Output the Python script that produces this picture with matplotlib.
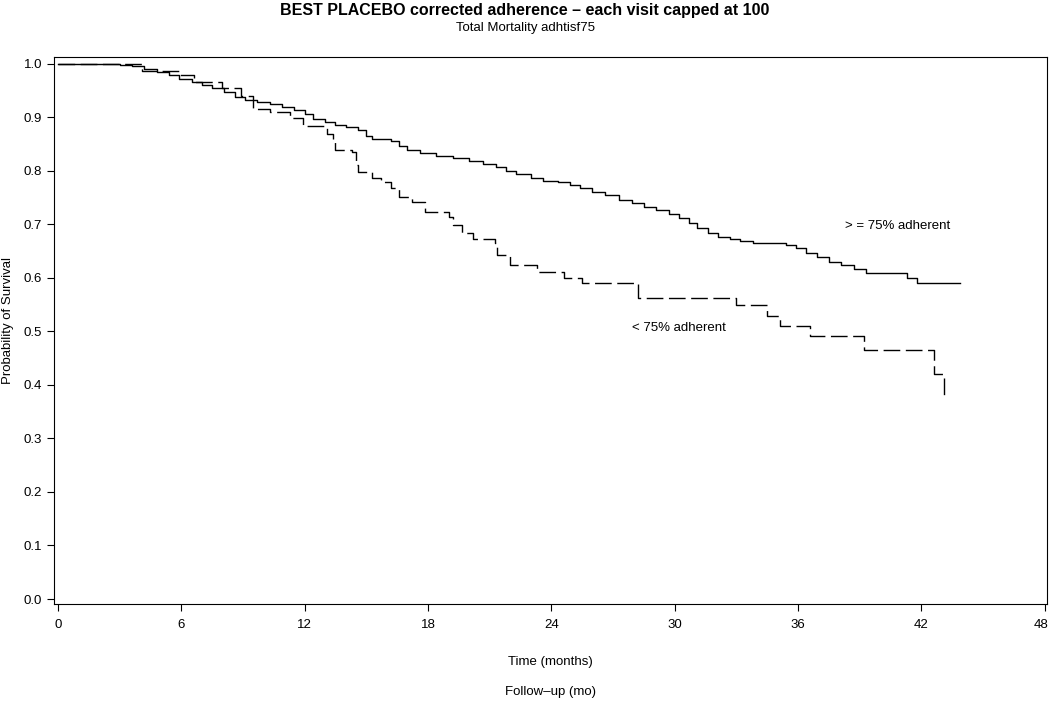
import matplotlib
matplotlib.use("Agg")
from matplotlib import pyplot as plt
from matplotlib import transforms

plt.rcParams['font.family'] = ['Liberation Sans', 'DejaVu Sans']

# >= 75% adherent (Kaplan-Meier)
t_hi = [0, 3.0, 3.6, 4.2, 4.8, 5.4, 5.9, 6.5, 7.0, 7.5, 8.1, 8.6, 9.1, 9.7,
        10.3, 10.9, 11.5, 12.0, 12.4, 13.0, 13.5, 14.0, 14.6, 15.0, 15.3,
        16.2, 16.6, 17.0, 17.6, 18.4, 19.2, 20.0, 20.7, 21.3, 21.8, 22.3,
        23.0, 23.6, 24.3, 24.9, 25.4, 26.0, 26.6, 27.3, 27.9, 28.5, 29.1,
        29.7, 30.2, 30.7, 31.1, 31.6, 32.1, 32.7, 33.2, 33.8, 35.4, 35.9,
        36.4, 36.9, 37.5, 38.1, 38.7, 39.3, 41.3, 41.8, 43.9]
s_hi = [1.0, 0.998, 0.995, 0.990, 0.984, 0.978, 0.972, 0.966, 0.960, 0.954,
        0.946, 0.938, 0.932, 0.928, 0.924, 0.918, 0.913, 0.905, 0.897, 0.891,
        0.886, 0.882, 0.876, 0.864, 0.860, 0.856, 0.846, 0.838, 0.833, 0.828,
        0.823, 0.818, 0.812, 0.806, 0.800, 0.793, 0.786, 0.781, 0.778, 0.774,
        0.767, 0.761, 0.754, 0.746, 0.739, 0.732, 0.726, 0.719, 0.712, 0.702,
        0.693, 0.684, 0.677, 0.672, 0.668, 0.664, 0.661, 0.655, 0.646, 0.638,
        0.630, 0.624, 0.617, 0.608, 0.600, 0.590, 0.590]

# < 75% adherent
t_lo = [0, 4.1, 5.9, 6.6, 8.0, 8.9, 9.5, 10.3, 11.3, 11.9, 13.1, 13.4, 13.5,
        14.3, 14.5, 14.6, 15.3, 15.7, 16.2, 16.6, 17.2, 17.85, 19.0, 19.2,
        19.65, 20.2, 21.25, 21.35, 22.0, 23.3, 24.6, 25.5, 28.2, 33.0, 34.5,
        35.1, 36.6, 39.2, 42.6, 43.1]
s_lo = [1.0, 0.986, 0.978, 0.965, 0.955, 0.940, 0.916, 0.909, 0.899, 0.884,
        0.869, 0.856, 0.838, 0.834, 0.810, 0.797, 0.787, 0.778, 0.767, 0.750,
        0.741, 0.722, 0.713, 0.698, 0.683, 0.673, 0.664, 0.642, 0.623, 0.610,
        0.599, 0.590, 0.563, 0.549, 0.528, 0.509, 0.491, 0.466, 0.421, 0.373]

x_ticks = [0, 6, 12, 18, 24, 30, 36, 42, 48]
y_ticks = [0.0, 0.1, 0.2, 0.3, 0.4, 0.5, 0.6, 0.7, 0.8, 0.9, 1.0]

fig = plt.figure(figsize=(10.5, 7.07), dpi=100)
ax = fig.add_axes([0.0514, 0.1457, 0.9456, 0.7733])

ax.step(t_hi, s_hi, where='post', color='black', lw=1.0)
ax.step(t_lo, s_lo, where='post', color='black', lw=1.0, dashes=(12, 4))

ax.text(38.3, 0.696, '> = 75% adherent', fontsize=9.5, va='center')
ax.text(27.9, 0.507, '< 75% adherent', fontsize=9.5, va='center')

ax.set_xlim(-0.19, 48.1)
ax.set_ylim(-0.0093, 1.0118)
ax.set_xticks(x_ticks)
ax.set_yticks(y_ticks)
ax.set_yticklabels(['%.1f' % v for v in y_ticks])
ax.tick_params(axis='both', labelsize=9.5, length=5, width=0.8, direction='out')
ax.tick_params(axis='x', pad=6)
for sp in ax.spines.values():
    sp.set_linewidth(0.8)

# keep the last x label inside the picture
last = ax.get_xticklabels()[-1]
last.set_transform(last.get_transform() +
                   transforms.ScaledTranslation(-4 / 100, 0, fig.dpi_scale_trans))

ax.set_xlabel('Time (months)', fontsize=9.5, labelpad=18)
fig.text(0.524, 1 - 692 / 707, 'Follow–up (mo)', fontsize=9.5, ha='center', va='center')
fig.text(8 / 1050, 1 - 321 / 707, 'Probability of Survival', fontsize=9.5,
         rotation=90, ha='center', va='center')

fig.text(0.5, 1 - 10 / 707, 'BEST PLACEBO corrected adherence – each visit capped at 100',
         fontsize=11.5, fontweight='bold', ha='center', va='center')
fig.text(0.5, 1 - 28 / 707, 'Total Mortality adhtisf75', fontsize=9.5,
         ha='center', va='center')

fig.savefig('out.png', dpi=100)
